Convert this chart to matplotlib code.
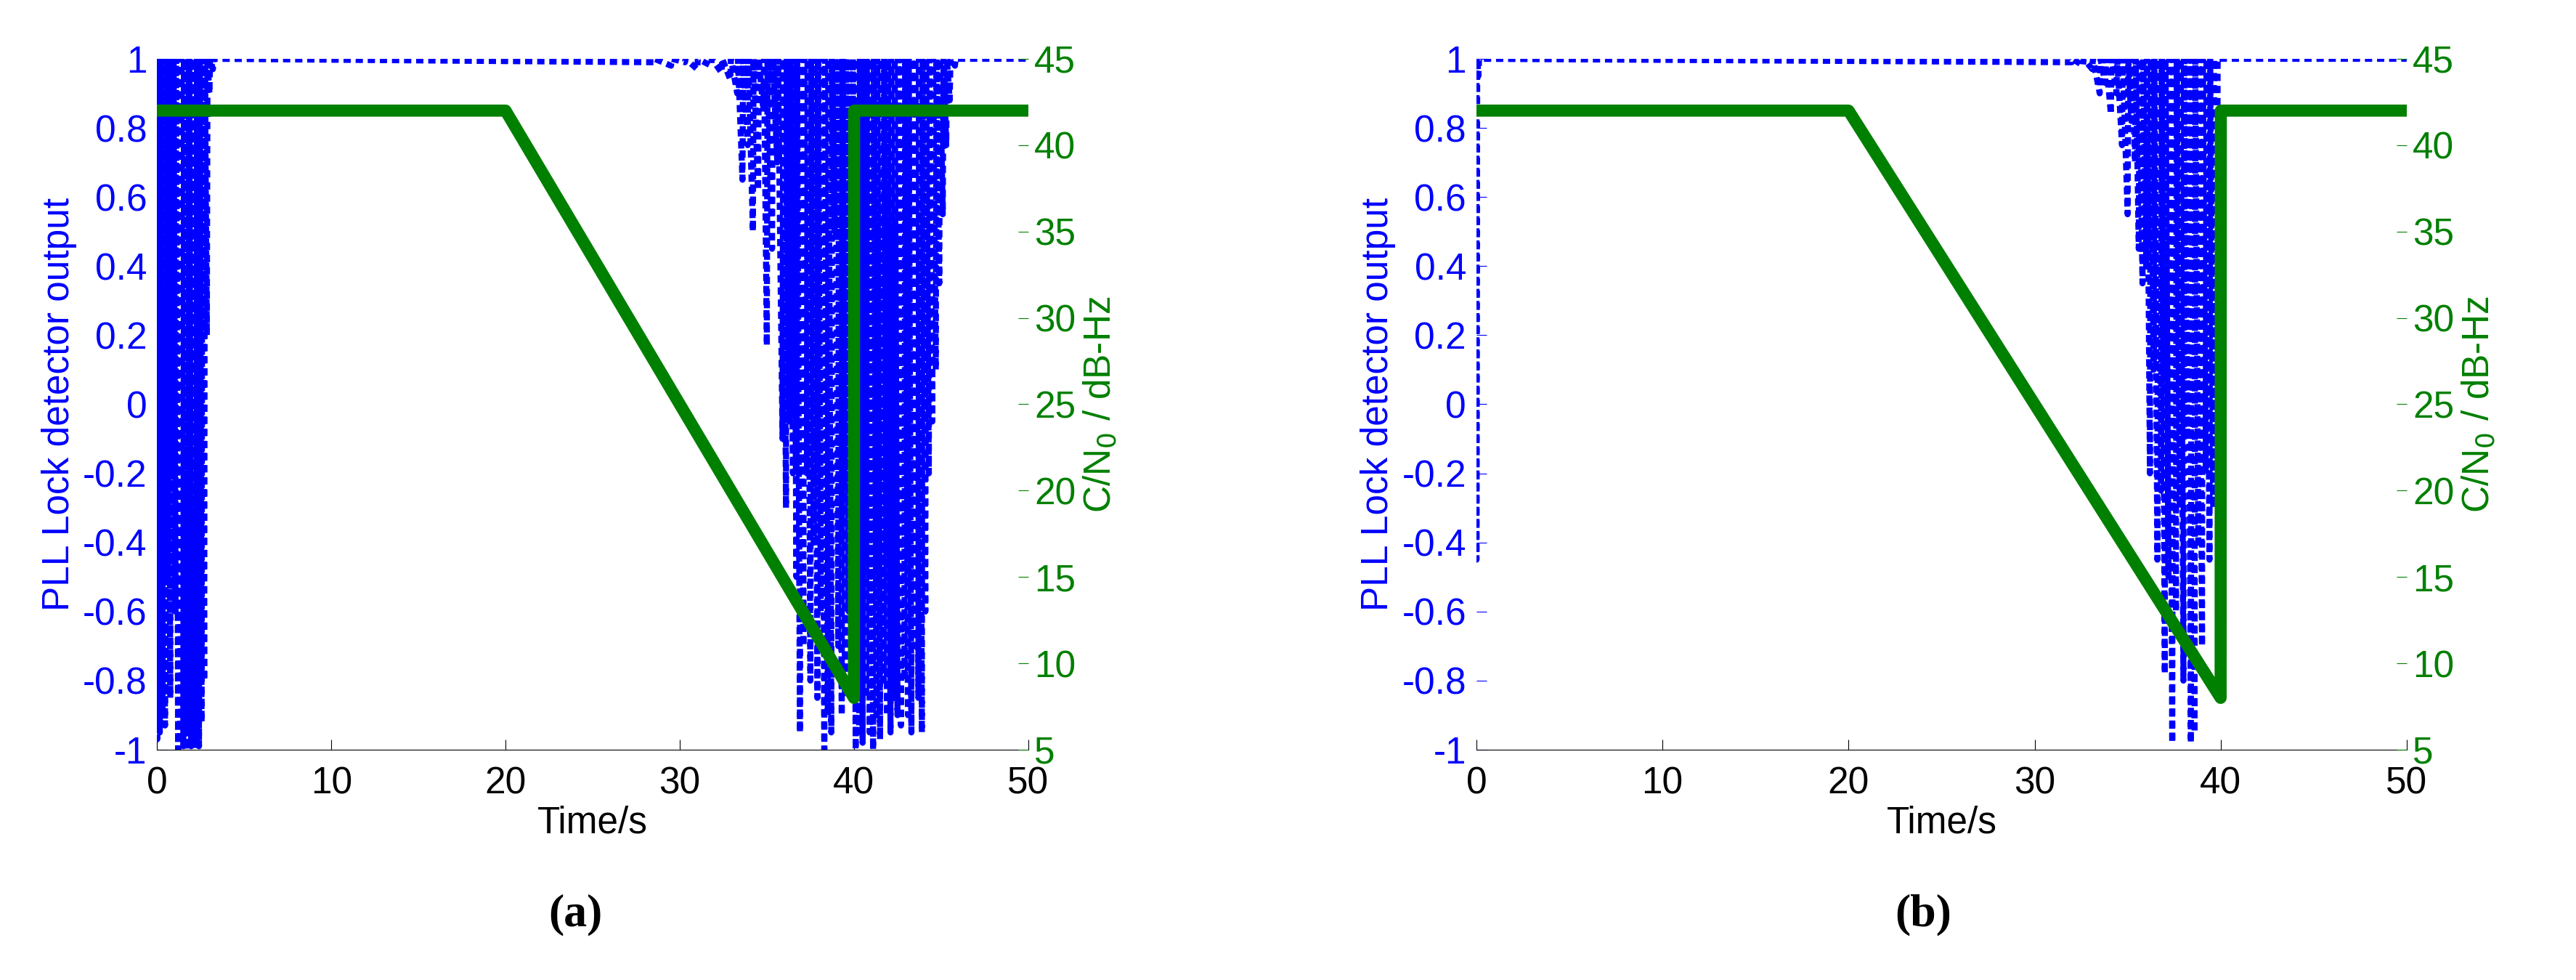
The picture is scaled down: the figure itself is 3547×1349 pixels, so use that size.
import matplotlib
matplotlib.use("Agg")
import matplotlib.pyplot as plt

# ---------------- data ----------------
# C/N0 profile (same in both panels)
cn0_t = [0, 20, 40, 40.01, 50]
cn0_a = [42, 42, 8, 42, 42]
cn0_b = [42, 42, 8, 42, 42]

# lock detector: times of dips and the dip depth (line returns to 1 between dips)
dip_a_t = [0.0, 0.15, 0.3, 0.45, 0.6, 0.75, 0.9, 1.05, 1.2, 1.35, 1.5, 1.65, 1.8, 1.95,
           2.1, 2.25, 2.4, 2.55, 2.7, 2.85, 3.0, 3.2,
           28.5, 29.5, 30.3, 31.0, 31.8, 32.4, 32.9, 33.3, 33.6, 33.9, 34.2, 34.5, 34.8,
           35.0, 35.3, 35.6, 35.9, 36.1, 36.3, 36.5, 36.7, 36.9, 37.1, 37.3, 37.5, 37.7,
           37.9, 38.1, 38.3, 38.5, 38.7, 38.9, 39.1, 39.3, 39.5, 39.7, 39.9, 40.1, 40.3,
           40.5, 40.7, 40.9, 41.1, 41.3, 41.5, 41.7, 41.9, 42.1, 42.3, 42.5, 42.7, 42.9,
           43.1, 43.3, 43.5, 43.7, 43.9, 44.1, 44.3, 44.5, 44.7, 44.9, 45.1, 45.3, 45.5, 45.8]
dip_a_y = [-0.97, -0.95, -0.9, -0.93, -0.5, -0.85, -0.2, -0.6, -1.0, -0.98, -0.99, -1.0, -0.95,
           -0.99, -1.0, -0.97, -0.99, -0.92, -0.8, 0.2, 0.9, 0.97,
           0.99, 0.98, 0.99, 0.97, 0.98, 0.96, 0.94, 0.9, 0.65, 0.75, 0.5, 0.62, 0.85,
           0.17, 0.45, 0.7, -0.1, -0.3, -0.05, -0.2, -0.5, -0.95, -0.7, -0.2, -0.8, -0.4,
           -0.85, -0.6, -1.0, -0.9, -0.95, 0.5, -0.7, -0.9, -0.85, -0.6, -0.8, -1.0, -0.95,
           -0.98, -0.85, -0.95, -1.0, -0.9, -0.97, -0.8, -0.9, -0.95, -0.85, -0.9, -0.93, -0.8,
           -0.9, -0.95, -0.7, -0.85, -0.95, -0.6, -0.2, -0.05, 0.1, 0.35, 0.55, 0.75, 0.88, 0.98]

dip_b_t = [0.0, 0.1, 32.0, 32.6, 33.1, 33.5, 33.8, 34.1, 34.4, 34.7, 35.0, 35.2, 35.4, 35.6,
           35.8, 36.0, 36.2, 36.4, 36.6, 36.8, 37.0, 37.2, 37.4, 37.6, 37.8, 38.0, 38.2,
           38.4, 38.6, 38.8, 39.0, 39.2, 39.4, 39.6, 39.8]
dip_b_y = [-0.45, 0.95, 0.99, 0.98, 0.97, 0.9, 0.93, 0.84, 0.9, 0.75, 0.55, 0.82, 0.7, 0.45,
           0.35, 0.4, -0.2, 0.1, -0.45, -0.25, -0.78, -0.5, -0.98, -0.6, -0.3, -0.8, -0.1,
           -0.98, -0.95, -0.4, -0.7, -0.2, -0.45, -0.3, 0.0]

blue = "#0000ff"
green = "#008000"
fs = 37


def series(dt, dy):
    xs, ys = [0.0], [1.0]
    for t, y in zip(dt, dy):
        xs += [t, t + 0.04]
        ys += [y, 1.0]
    xs.append(50)
    ys.append(1.0)
    return xs, ys


fig = plt.figure(figsize=(35.48, 13.49), dpi=100)
plt.rcParams["font.family"] = "Liberation Sans"

panels = [([0.061, 0.235, 0.338, 0.705], dip_a_t, dip_a_y, cn0_a, "(a)"),
          ([0.573, 0.235, 0.361, 0.705], dip_b_t, dip_b_y, cn0_b, "(b)")]

for pos, dt, dy, cn, cap in panels:
    ax = fig.add_axes(pos)
    xs, ys = series(dt, dy)
    ax.plot(xs, ys, color=blue, linestyle=(0, (1.2, 0.8)), linewidth=6)
    ax.set_xlim(0, 50)
    ax.set_ylim(-1, 1)
    ax.set_xticks([0, 10, 20, 30, 40, 50])
    ax.set_yticks([-1, -0.8, -0.6, -0.4, -0.2, 0, 0.2, 0.4, 0.6, 0.8, 1])
    ax.set_yticklabels(["-1", "-0.8", "-0.6", "-0.4", "-0.2", "0", "0.2", "0.4", "0.6", "0.8", "1"])
    ax.tick_params(axis="x", direction="in", labelsize=fs, length=10, pad=16)
    ax.tick_params(axis="y", direction="in", labelsize=fs, length=10, pad=10,
                   labelcolor=blue, color=blue)
    ax.set_xlabel("Time/s", fontsize=fs, labelpad=4)
    ax.set_ylabel("PLL Lock detector output", fontsize=fs, color=blue, labelpad=6)
    for s in ["top", "left", "right"]:
        ax.spines[s].set_visible(False)

    ax2 = ax.twinx()
    ax2.plot(cn0_t, cn, color=green, linewidth=12)
    ax2.set_xlim(0, 50)
    ax2.set_ylim(5, 45)
    ax2.set_yticks(range(5, 50, 5))
    ax2.tick_params(axis="y", direction="in", labelsize=fs, length=10, pad=6,
                    labelcolor=green, color=green)
    ax2.set_ylabel("C/N$_0$ / dB-Hz", fontsize=fs, color=green, labelpad=6)
    for s in ["top", "left", "bottom", "right"]:
        ax2.spines[s].set_visible(False)

    fig.text(pos[0] + pos[2] * 0.48, 0.055, cap, ha="center", fontsize=46,
             family="Liberation Serif", fontweight="bold")

fig.savefig("out.png", dpi=100)
